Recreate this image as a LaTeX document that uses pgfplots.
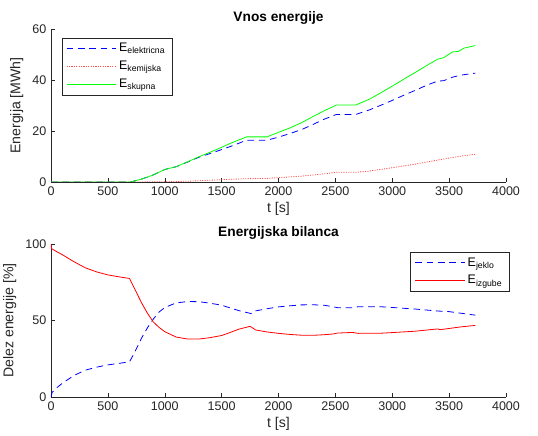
\documentclass[border=0pt]{standalone}
\usepackage{fontspec}
\setmainfont{Liberation Sans}
\usepackage{pgfplots}
\pgfplotsset{compat=1.18}

\definecolor{axgray}{gray}{0.15}
\definecolor{mblue}{rgb}{0,0,1}
\definecolor{mred}{rgb}{1,0,0}
\definecolor{mgreen}{rgb}{0,1,0}
\definecolor{mlred}{rgb}{1,0.3,0.3}

\pgfplotsset{
  mat/.style={
    scale only axis, width=341.25pt, height=114.75pt,
    xmin=0, xmax=4000, xtick={0,500,...,4000},
    axis x line*=bottom, axis y line*=left,
    axis line style={-, axgray},
    tick align=inside, major tick length=3pt,
    tick style={axgray},
    ticklabel style={font=\fontsize{9.4}{11}\selectfont, text=axgray},
    /pgf/number format/assume math mode=true,
    /pgf/number format/1000 sep={},
    label style={font=\fontsize{10.6}{12}\selectfont, text=axgray},
    title style={font=\fontsize{10.3}{12}\selectfont\bfseries, yshift=-6pt},
    xlabel={t [s]},
    xlabel style={yshift=2pt},
    legend style={draw=axgray, font=\fontsize{9.3}{10}\selectfont, row sep=1.5pt,
      inner xsep=3pt, inner ysep=2pt, cells={anchor=west}},
    legend image code/.code={\draw[##1, line width=0.75pt] (0cm,0cm) -- (1.3cm,0cm);},
  },
  eblue/.style={color=mblue, line width=0.6pt, dash pattern=on 5pt off 3.5pt},
  ered/.style={color=mlred, line width=0.6pt, dash pattern=on 0.8pt off 1pt},
  egreen/.style={color=mgreen, line width=0.6pt},
  esred/.style={color=mred, line width=0.6pt},
}

\begin{document}
\begin{tikzpicture}

\begin{axis}[mat, at={(0pt,0pt)}, anchor=south west,
  ymin=0, ymax=60, ytick={0,20,40,60},
  title={Vnos energije}, ylabel={Energija [MWh]},
  legend style={at={(0.024,0.944)}, anchor=north west}]
\addplot[eblue] coordinates {
(0,0)(700,0)(800,1.2)(890,2.6)(1000,4.9)(1100,6.0)(1200,7.8)(1300,9.7)
(1400,11.2)(1500,12.7)(1600,14.3)(1720,16.4)(1900,16.4)(2000,17.6)(2100,19.0)
(2200,20.5)(2300,22.5)(2400,24.6)(2510,26.5)(2680,26.5)(2800,28.3)(2900,30.1)
(3000,32.0)(3100,34.0)(3200,35.9)(3300,37.9)(3400,39.6)(3450,39.7)(3530,41.1)
(3600,41.9)(3730,42.7)
};
\addlegendentry{E\textsubscript{elektricna}}
\addplot[ered] coordinates {
(0,0)(700,0)(1000,0.1)(1200,0.3)(1500,0.9)(1720,1.3)(1900,1.4)(2000,1.7)
(2200,2.3)(2400,3.2)(2510,3.8)(2680,3.8)(2800,4.3)(3000,5.6)(3200,7.0)
(3400,8.6)(3500,9.4)(3600,10.1)(3730,10.9)
};
\addlegendentry{E\textsubscript{kemijska}}
\addplot[egreen] coordinates {
(0,0)(700,0)(800,1.2)(890,2.6)(1000,4.9)(1100,6.0)(1200,7.9)(1300,9.9)
(1400,11.7)(1500,13.6)(1600,15.6)(1720,17.7)(1900,17.7)(2000,19.5)(2100,21.2)
(2200,23.2)(2300,25.6)(2400,27.9)(2510,30.2)(2680,30.2)(2800,32.5)(2900,35.0)
(3000,37.6)(3100,40.3)(3200,42.9)(3300,45.6)(3400,48.2)(3450,48.7)(3530,51.0)
(3580,51.2)(3630,52.5)(3730,53.5)
};
\addlegendentry{E\textsubscript{skupna}}
\end{axis}

\begin{axis}[mat, at={(0pt,-161.25pt)}, anchor=south west,
  ymin=0, ymax=100, ytick={0,50,100},
  title={Energijska bilanca}, ylabel={Delez energije [\%]},
  legend style={at={(1.007,0.948)}, anchor=north east}]
\addplot[eblue] coordinates {
(0,0)(10,3)(50,6)(100,9)(200,14)(300,17.5)(400,19.5)(500,21)(600,22)(690,23)
(720,27)(760,33)(800,39)(850,45.5)(900,51)(950,55.5)(1000,58.5)(1100,61.5)
(1200,62.4)(1300,62.3)(1400,61.3)(1500,60)(1550,58.8)(1650,56.5)(1760,54.5)
(1800,56.3)(1900,57.7)(2000,58.9)(2100,59.6)(2200,60.2)(2300,60.3)(2400,60)
(2480,59)(2520,58.4)(2650,58.3)(2700,59)(2900,59)(3000,58.5)(3200,57.5)
(3400,56.2)(3500,55.8)(3600,54.8)(3730,53.5)
};
\addlegendentry{E\textsubscript{jeklo}}
\addplot[esred] coordinates {
(0,100)(5,97)(50,95)(100,93)(200,88.5)(300,84.5)(400,81.8)(500,79.8)(600,78.5)
(690,77.5)(720,73)(760,67)(800,61)(850,54.5)(900,49)(950,45.5)(1000,42.7)
(1100,39.2)(1200,37.9)(1300,37.9)(1400,38.8)(1500,40.2)(1550,41.5)(1650,44.3)
(1750,46.2)(1800,43.8)(1900,42.5)(2000,41.6)(2100,40.9)(2200,40.4)(2300,40.3)
(2400,40.7)(2480,41.2)(2520,41.8)(2650,42.2)(2700,41.6)(2900,41.7)(3000,42.1)
(3200,43.0)(3400,44.5)(3420,44.0)(3500,44.8)(3600,45.8)(3730,46.8)
};
\addlegendentry{E\textsubscript{izgube}}
\end{axis}

\pgfresetboundingbox
\path[use as bounding box] (-38.25pt,-189.75pt) rectangle (365.25pt,136.5pt);
\end{tikzpicture}
\end{document}
